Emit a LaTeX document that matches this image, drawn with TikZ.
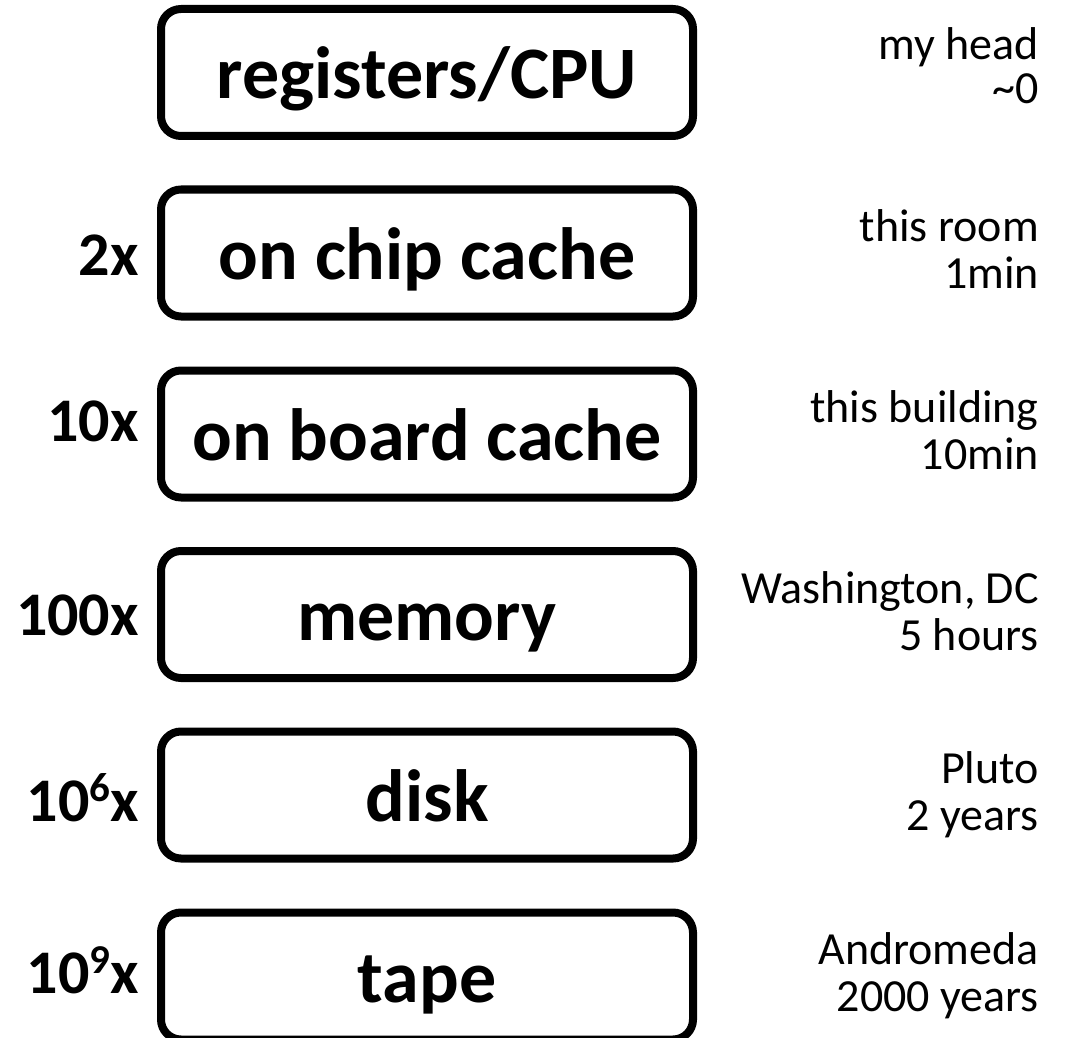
\documentclass[tikz,border=0pt]{standalone}
\usepackage{fontspec}
\setmainfont{Carlito}
\newcommand{\supdig}[1]{\raisebox{20pt}{\fontsize{41}{41}\selectfont\bfseries #1}}
\begin{document}
\begin{tikzpicture}[x=1pt,y=-1pt,
  membox/.style={draw=black, line width=8pt, rounded corners=20pt, minimum width=532pt, minimum height=127pt, inner sep=0pt, text height=62pt, text depth=10pt, font=\fontsize{74}{80}\selectfont\bfseries},
  factor/.style={anchor=base east, inner sep=0pt, font=\fontsize{62}{68}\selectfont\bfseries},
  analog/.style={anchor=base east, inner sep=0pt, font=\fontsize{46}{55}\selectfont}]
\useasboundingbox (0,0) rectangle (1066,1038);
\clip (0,0) rectangle (1066,1038);
\node[membox] (b1) at (427,72.5) {registers/CPU};
\node[membox] (b2) at (427,253) {on chip cache};
\node[membox] (b3) at (427,434) {on board cache};
\node[membox] (b4) at (427,614.5) {memory};
\node[membox] (b5) at (427,795) {disk};
\node[membox] (b6) at (427,976) {tape};
\node[factor] (f2) at (139,275) {2x};
\node[factor] (f3) at (139,441) {10x};
\node[factor] (f4) at (139,635) {100x};
\node[factor] (f5) at (139,821) {10\supdig{6}x};
\node[factor] (f6) at (139,993) {10\supdig{9}x};
\node[analog] (a1) at (1039,60) {my head};
\node[analog] (a1b) at (1039,104) {\textasciitilde0};
\node[analog] (a2) at (1039,241) {this room};
\node[analog] (a2b) at (1039,288) {1min};
\node[analog] (a3) at (1039,422) {this building};
\node[analog] (a3b) at (1039,469) {10min};
\node[analog] (a4) at (1039,603) {Washington, DC};
\node[analog] (a4b) at (1039,650) {5 hours};
\node[analog] (a5) at (1039,783) {Pluto};
\node[analog] (a5b) at (1039,830) {2 years};
\node[analog] (a6) at (1039,964) {Andromeda};
\node[analog] (a6b) at (1039,1011) {2000 years};
\end{tikzpicture}
\end{document}
